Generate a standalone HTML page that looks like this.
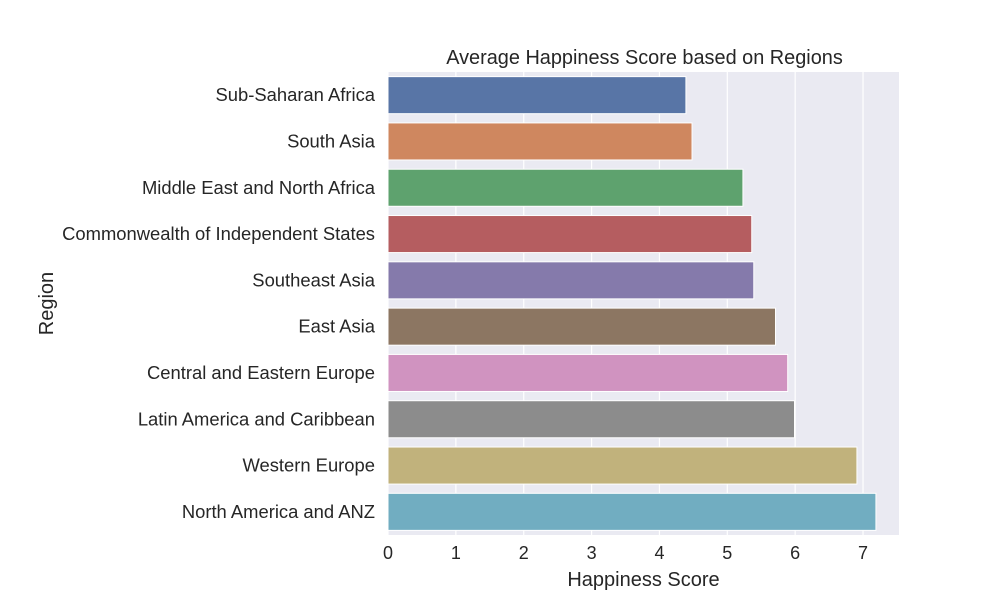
<!DOCTYPE html>
<html><head><meta charset="utf-8"><style>
body{margin:0;background:#fff;font-family:"Liberation Sans","DejaVu Sans",sans-serif;}
svg text{font-family:"Liberation Sans","DejaVu Sans",sans-serif;fill:#262626;}
</style></head><body>
<svg id="chart" width="1000" height="600"></svg>
<script>
const categories=["Sub-Saharan Africa","South Asia","Middle East and North Africa","Commonwealth of Independent States","Southeast Asia","East Asia","Central and Eastern Europe","Latin America and Caribbean","Western Europe","North America and ANZ"];
const values=[4.39,4.48,5.23,5.36,5.39,5.71,5.89,5.99,6.91,7.19];
const colors=["#5875a6","#cf875f","#5ea26e","#b55d60","#857aab","#8c7662","#d093c0","#8c8c8c","#c1b27c","#71adc1"];
const xTicks=[0,1,2,3,4,5,6,7];
const NS="http://www.w3.org/2000/svg";
const svg=document.getElementById('chart');
const L=388,R=899,T=72,B=535,xmax=7.53;
const x=v=>L+v/xmax*(R-L);
const band=(B-T)/categories.length;
const y=i=>T+i*band;
function mk(tag,attrs,parent){const e=document.createElementNS(NS,tag);for(const k in attrs)e.setAttribute(k,attrs[k]);(parent||svg).appendChild(e);return e;}
const bg=mk('rect',{x:L,y:T,width:R-L,height:B-T,fill:'#eaeaf2'});


xTicks.forEach(t=>{
  const g=mk('line',{x1:x(t),x2:x(t),y1:T,y2:B,stroke:'#fff','stroke-width':1.2});
  
  
  const tl=mk('text',{x:x(t),y:B+24,'text-anchor':'middle','font-size':18});
  tl.textContent=t;
  
  
});
categories.forEach((c,i)=>{
  const bh=band*0.8;
  const r=mk('rect',{x:L,y:y(i)+band*0.1,width:x(values[i])-L,height:bh,fill:colors[i],stroke:'#fff','stroke-width':1});
  
  
  const tl=mk('text',{x:L-13,y:y(i)+band/2+6,'text-anchor':'end','font-size':18.4});
  tl.textContent=c;
  
  
});
const title=mk('text',{x:(L+R)/2+1,y:64,'text-anchor':'middle','font-size':19.9});
title.textContent='Average Happiness Score based on Regions';


const xt=mk('text',{x:(L+R)/2,y:586,'text-anchor':'middle','font-size':20});
xt.textContent='Happiness Score';


const yt=mk('text',{x:53,y:(T+B)/2,'text-anchor':'middle','font-size':20,transform:'rotate(-90 53 '+((T+B)/2)+')'});
yt.textContent='Region';


</script>
</body></html>
